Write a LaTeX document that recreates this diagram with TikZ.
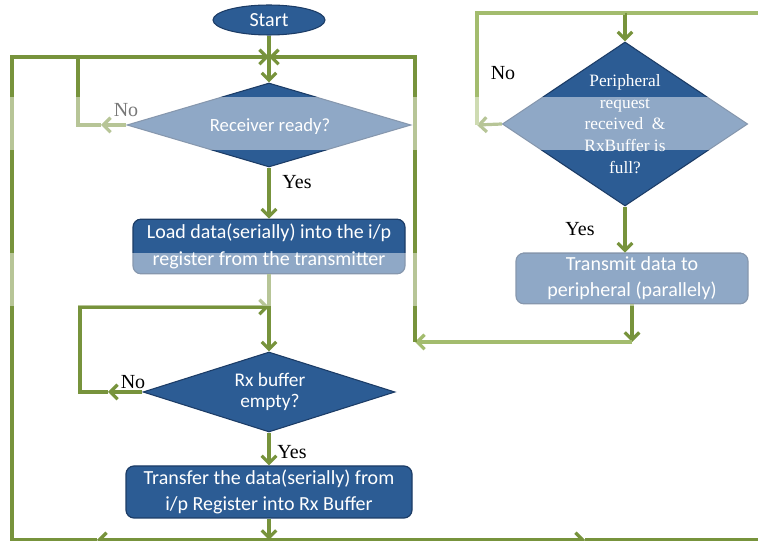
\documentclass[tikz,border=0pt]{standalone}
\usepackage{fontspec}
\setmainfont{Liberation Serif}
\newfontfamily\calfont{Carlito}
\usetikzlibrary{shapes.geometric,arrows.meta}
\definecolor{flowgreen}{RGB}{119,147,60}
\definecolor{flowgreenlt}{RGB}{163,188,110}
\definecolor{boxblue}{RGB}{44,92,148}
\definecolor{boxedge}{RGB}{28,60,102}
\begin{document}
\begin{tikzpicture}[x=0.75pt,y=-0.75pt,
  flow/.style={draw=flowgreen,line width=2.4pt},
  flowlt/.style={draw=flowgreenlt,line width=2.4pt},
  tip/.style={-{Straight Barb[length=5.5pt,width=11pt]}},
  boxnode/.style={draw=boxedge,line width=0.9pt,fill=boxblue,rounded corners=6pt,inner sep=0pt,
    text=white,align=center,font=\calfont\fontsize{15}{20}\selectfont},
  decision/.style={diamond,draw=boxedge,line width=0.8pt,fill=boxblue,inner sep=0pt},
  dtext/.style={text=white,align=center,inner sep=0pt},
  lbl/.style={font=\fontsize{15}{17}\selectfont,text=black,inner sep=0pt}]
\useasboundingbox (0,0) rectangle (758,541);

% process and decision nodes
\node[ellipse,draw=boxedge,line width=0.8pt,fill=boxblue,minimum width=84pt,minimum height=22.5pt,
  inner sep=0pt,text=white,font=\calfont\fontsize{15}{16}\selectfont] (start) at (269,20) {Start};

\node[decision,minimum width=213pt,minimum height=63pt] (rr) at (269,125) {};
\node[dtext,font=\calfont\fontsize{14}{16}\selectfont] (rrtext) at (270,127) {Receiver ready?};

\node[boxnode,minimum width=204pt,minimum height=41pt] (load) at (269,246.5)
  {Load data(serially) into the i/p\\register from the transmitter};

\node[decision,minimum width=189pt,minimum height=60pt] (rx) at (269,392) {};
\node[dtext,font=\calfont\fontsize{14.5}{15.5}\selectfont] (rxtext) at (270,392) {Rx buffer\\empty?};

\node[boxnode,minimum width=214.5pt,minimum height=39pt] (xfer) at (269,492)
  {Transfer the data(serially) from\\i/p Register into Rx Buffer};

\node[decision,minimum width=184pt,minimum height=123pt] (pd) at (625,124) {};
\node[dtext,font=\fontsize{13}{16.3}\selectfont] (pdtext) at (625,124)
  {Peripheral\\request\\received\ \ \&\\RxBuffer is\\full?};

\node[boxnode,minimum width=174pt,minimum height=38pt,font=\calfont\fontsize{15}{19.5}\selectfont]
  (tx) at (632,278.5) {Transmit data to\\peripheral (parallely)};

% junctions and corners of the connector network
\coordinate (jt) at (269,57);
\coordinate (tl) at (12,57);
\coordinate (bl) at (12,540);
\coordinate (jb) at (269,540);
\coordinate (lb) at (97,540);
\coordinate (rb) at (585,540);
\coordinate (br) at (772,540);
\coordinate (tr) at (772,13);
\coordinate (jp) at (625,13);
\coordinate (pn) at (477,125);
\coordinate (ptl) at (477,13);
\coordinate (rrNo) at (101,125);
\coordinate (rrCorner) at (78,125);
\coordinate (rrTop) at (78,57);
\coordinate (jm) at (269,307);
\coordinate (rxNo) at (108,392);
\coordinate (rxCorner) at (80,392);
\coordinate (rxTop) at (80,307);
\coordinate (jr) at (632,342);
\coordinate (rj) at (415,342);
\coordinate (rTop) at (415,57);

% connectors
\draw[flow] (start) -- (jt);
\draw[flow,tip] (jt) -- (rr.north);
\draw[flow,tip] (rr.west) -- (rrNo);
\draw[flow] (rrNo) -- (rrCorner) -- (rrTop);
\draw[flow,tip] (rr.south) -- (load.north);
\draw[flow] (load.south) -- (jm);
\draw[flow,tip] (jm) -- (rx.north);
\draw[flow,tip] (rx.west) -- (rxNo);
\draw[flow,tip] (rxNo) -- (rxCorner) -- (rxTop) -- (jm);
\draw[flow,tip] (rx.south) -- (xfer.north);
\draw[flow,tip] (xfer.south) -- (jb);
\draw[flow,tip] (jb) -- (lb);
\draw[flow,tip] (lb) -- (bl) -- (tl) -- (jt);
\draw[flow,tip] (jb) -- (rb);
\draw[flow] (rb) -- (br) -- (tr);
\draw[flowlt] (tr) -- (jp);
\draw[flow,tip] (jp) -- (pd.north);
\draw[flow,tip] (pd.west) -- (pn);
\draw[flowlt] (pn) -- (ptl) -- (jp);
\draw[flow,tip] (pd.south) -- (pd.south |- tx.north);
\draw[flow,tip] (tx.south) -- (jr);
\draw[flowlt,tip] (jr) -- (rj);
\draw[flow,tip] (rj) -- (rTop) -- (jt);

% branch labels
\node[lbl] (noA) at (126,110) {No};
\node[lbl] (yesA) at (297,182) {Yes};
\node[lbl] (noB) at (133,382) {No};
\node[lbl] (yesB) at (292,452) {Yes};
\node[lbl] (noC) at (503,73) {No};
\node[lbl] (yesC) at (580,229) {Yes};

% faded horizontal bands
\fill[white,opacity=0.47] (0,97) rectangle (758,150);
\fill[white,opacity=0.47] (0,253) rectangle (758,306);
\end{tikzpicture}
\end{document}
